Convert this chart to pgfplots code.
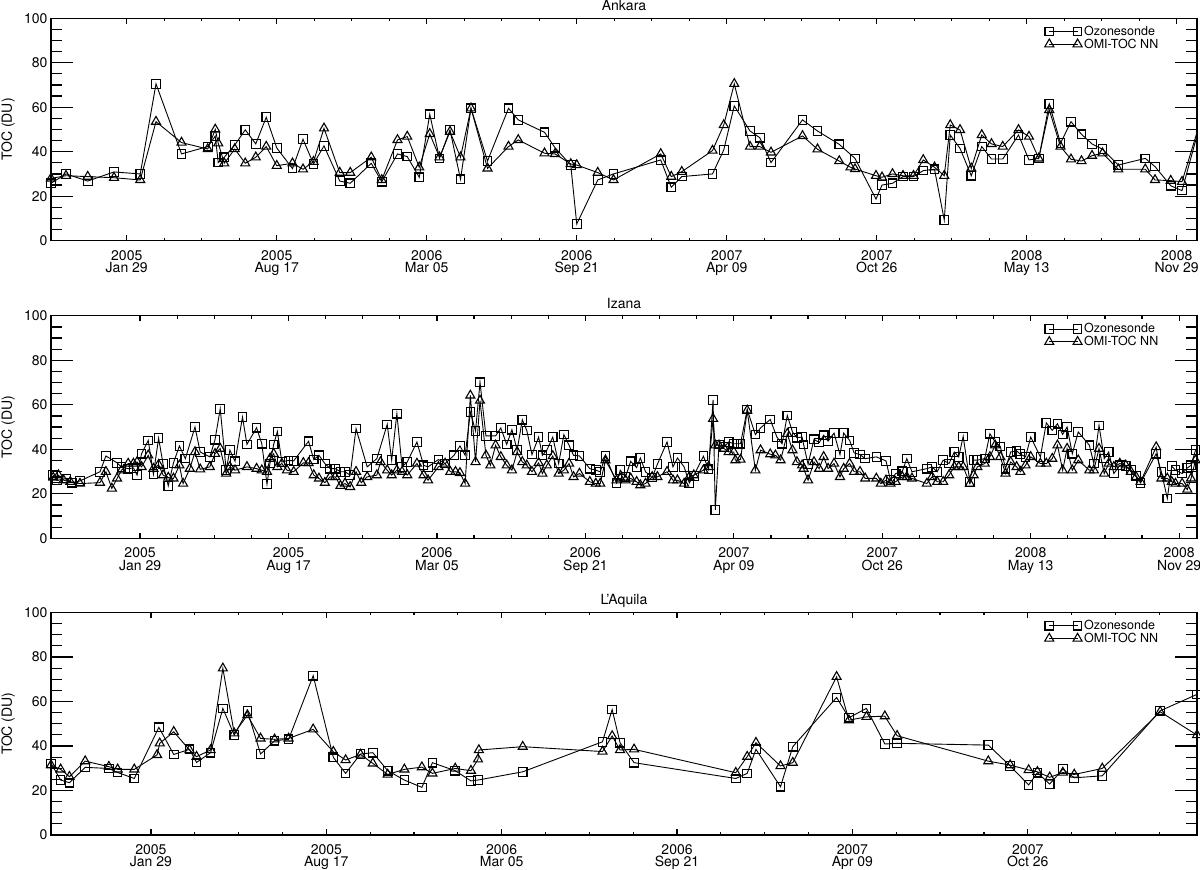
\documentclass[border=0pt]{standalone}
\usepackage{fontspec}
\setmainfont{TeX Gyre Heros}
\usepackage{pgfplots}
\usepackage{pgfplotstable}
\pgfplotsset{compat=1.18}

% x = days since 2005 Jan 29, y = TOC (DU)
\pgfplotstableread{
x y
-101 25.8
-81 30
-52 26.8
-17 30.9
18 30
39 70.5
73 39
108 42.3
118 47
122 35.1
130 37.5
144 43
158 49.8
172 43.5
186 55.5
200 41.7
221 32.4
235 45.6
249 34.5
263 42.6
284 26.8
298 25.8
326 34.8
340 26.5
361 39
374 37.8
390 28.5
404 56.8
417 37
431 49.8
445 27.6
459 59.5
481 35.8
509 59.5
522 54.3
557 48.7
571 41.8
592 34
600 7.5
628 27.3
649 30
712 36.3
726 24
740 28.8
781 30
796 40.8
810 60.6
831 49.3
844 46.3
859 35.1
901 54.3
921 49.3
950 43.3
971 37
999 18.7
1007 25
1021 25.8
1035 28.8
1049 28.8
1062 31.5
1077 32.1
1090 9.3
1098 47.5
1111 41.5
1126 29.2
1140 42.3
1153 36.7
1168 36.7
1189 47.5
1203 36.3
1216 37
1230 61.5
1245 43.8
1259 53.5
1273 47.8
1287 43.5
1301 41.1
1322 34
1358 37
1371 33.3
1392 24.7
1407 22.5
1430 51
}\ankO
\pgfplotstableread{
x y
-101 28
-81 29.2
-52 28.8
-17 28.3
18 27.3
39 53.5
73 44.1
108 41.2
118 50
122 43.8
130 34.8
144 41.2
158 34.8
172 37.5
186 42.3
200 33.7
221 34.8
235 32.1
249 35.5
263 50.5
284 30.6
298 30.6
326 37.5
340 27.3
361 45.3
374 46.8
390 33
404 48
417 37.5
431 49
445 37.5
459 59.5
481 32.5
509 42.3
522 45.3
557 39.3
571 39
592 34.5
600 34
628 30.6
649 27.3
712 39
726 28.8
740 31
781 40.5
796 52
810 70.5
831 42.3
844 42.3
859 39.7
901 47.1
921 41.1
950 35.8
965 33
971 32.2
999 29.2
1007 28.5
1021 30
1035 29.2
1049 29.2
1062 36.3
1077 33
1090 29.2
1098 52
1111 49.8
1126 32.5
1140 47.5
1153 43.5
1168 42.3
1189 49.8
1203 46.8
1216 37
1230 58.8
1245 42.3
1259 36.6
1273 35.8
1287 38.2
1301 39.3
1322 32.1
1358 32.1
1371 27.3
1392 27
1407 26.5
1430 52
}\ankN
\pgfplotstableread{
x y
-117 28.4
-112 26
-99 26.9
-92 25
-81 25.8
-54 29.9
-46 37
-31 33.9
-25 32
-16 31.3
-9 31.6
-4 28.4
2 38
11 44
18 28.8
25 45
31 33.3
38 23.6
45 33.9
53 41.5
61 35.8
74 50
81 38.8
94 36.6
101 44.3
108 58.2
116 30.6
121 39.6
128 34.6
138 54.5
144 42.2
157 49.7
164 42.5
171 24.3
175 33.6
180 42.2
185 48
191 34.3
200 35
207 34.8
227 43.6
234 35.4
241 37.3
249 33.6
256 31.3
263 31.3
270 29.9
276 29.9
283 28.4
291 49.3
306 32.1
319 35.8
333 51.2
339 35.1
346 56
353 32.1
360 34.3
373 43.3
382 32.8
388 32.1
402 35.4
411 33.6
423 37.3
431 41.5
438 37.3
445 56.7
452 48.2
458 70.1
466 46
479 46
486 49.6
494 42.2
501 48.8
508 39.6
515 53.3
521 48.5
528 37.6
537 45.5
542 37.3
548 39.6
556 45.5
564 33.6
571 46.6
578 41.8
584 37.3
592 37
606 31.3
614 30.6
620 29.9
627 37
642 24.9
647 30.6
654 27.6
661 34.6
669 31.8
674 36.1
681 29.9
690 27.3
697 33.3
710 43.3
718 32.1
724 36.1
733 32.1
740 24.9
746 28.1
759 36.9
766 31
772 62.2
775 12.7
780 42.2
787 41
793 43.3
800 42.5
805 42.5
809 42.5
818 57.9
829 46.6
836 49.6
849 53.4
858 45.5
865 42.5
872 55.2
879 47.8
885 45.2
892 45.5
894 42.2
900 33.3
908 44.5
915 43
921 46.3
927 43.7
935 47.3
943 37.6
948 47.3
956 44
962 38.4
970 37.6
977 35.8
992 36.6
1005 34.8
1011 26.1
1018 29.1
1027 30.1
1033 35.8
1040 29.9
1060 31.3
1067 32.1
1074 29.9
1082 35.1
1090 33.6
1097 38.8
1103 36.6
1109 45.8
1118 25.4
1123 35.1
1128 35.1
1138 35.8
1145 47
1152 43.3
1159 41.3
1166 31.3
1173 38.8
1181 39.3
1186 37.8
1193 36.6
1200 45.5
1213 36.6
1221 51.9
1229 48.5
1236 51.5
1243 46.7
1249 50
1256 38
1264 47.8
1279 41.8
1285 33.6
1292 50.7
1299 35.8
1305 38.8
1312 29.1
1320 32.8
1328 32.4
1335 30.6
1342 28.1
1348 24.9
1369 38
1376 29.9
1384 17.9
1390 32.4
1395 30.6
1404 29.1
1411 31.6
1416 32.8
1422 39.6
}\izaO
\pgfplotstableread{
x y
-117 27.3
-110 28.4
-103 26.1
-94 25.4
-81 24.6
-54 25
-46 29.9
-38 22.4
-31 26.9
-25 30.6
-16 33.6
-9 33.6
-4 34.3
2 32.1
11 37.3
18 31.3
25 33.1
31 28.4
38 27.3
45 26.9
53 32.8
58 24.6
67 31.3
74 38.8
81 31
94 32.1
101 38
108 40.3
116 29.1
121 32.1
128 30.6
144 32.1
157 31.3
164 30.6
171 29.9
175 35.8
180 38
185 32.1
191 33.6
198 30.6
207 29.9
220 33.9
227 33.9
234 28.4
241 26.9
249 25
256 27.6
263 27.6
270 23.6
276 24.6
283 23.1
291 29.9
298 25
306 27.6
319 28.4
324 34.3
333 30.6
339 28.4
346 30.6
353 29.9
360 28.4
373 33.6
382 28.4
388 26.1
402 32.1
411 33.6
418 29.9
425 29.9
431 29.4
438 24.6
445 64.2
452 34.3
458 61.9
466 37.3
472 32.8
479 41.8
486 36.6
494 32.8
501 30.6
508 38.8
515 34.3
521 32.8
528 29.9
537 33.9
542 29.1
548 32.8
556 37
564 29.1
571 30.6
578 33.6
584 27.6
592 29.1
606 25.4
614 24.6
620 24.6
627 35.1
642 26.1
647 26.9
654 26.1
661 26.9
669 25.4
674 23.9
681 24.6
690 27.6
697 27.6
710 29.9
718 26.1
724 26.1
733 24.6
740 27.6
746 28.4
759 30.6
766 32.1
772 53.7
775 41.8
780 41.8
787 40.3
793 38.8
800 38.8
802 35.1
809 35.4
818 57.5
829 30.6
836 39.6
849 37.8
856 37.3
863 35.1
872 47
879 39.6
885 34.3
892 32.8
894 31.3
900 26.1
908 34.3
915 31.3
921 36.6
927 31.3
935 33.6
943 27.6
948 31.3
956 33.6
962 29.9
970 29.9
977 26.9
992 26.9
998 24.6
1005 26.1
1011 24.6
1018 25.4
1027 27.6
1033 27.6
1040 26.9
1060 24.6
1067 27.6
1074 25.4
1082 25.4
1090 28.4
1097 32.1
1103 32.1
1109 32.1
1118 24.6
1123 28.4
1128 32.1
1138 33.6
1145 36.6
1152 41.8
1159 36.6
1166 29.1
1173 34.3
1181 32.1
1186 29.9
1193 32.8
1200 36.6
1213 33.6
1221 33.6
1229 35.8
1236 41.8
1243 30.6
1249 40.3
1256 30.6
1264 35.1
1279 30.6
1285 30.6
1292 40.3
1299 29.1
1305 33.6
1312 32.1
1320 33.6
1328 32.8
1335 29.9
1342 27.6
1348 25.4
1369 41
1376 26.9
1384 26.9
1390 25.4
1395 24.6
1404 24.6
1411 21.9
1416 26.9
1422 35.1
}\izaN
\pgfplotstableread{
x y
-114 32.2
-103 24.7
-93 23.5
-75 30.4
-48 29.9
-38 28.1
-19 25.4
9 48.4
26 36.2
44 38.5
52 32.6
68 37
82 56.9
95 44.9
110 55.8
125 36.4
141 42.4
157 43
185 71.6
208 34.9
222 27.7
239 36.4
253 37
270 28.9
289 24.7
309 21.4
321 32.5
347 28.9
365 24.3
373 24.7
424 28.4
515 41.9
526 56.4
535 41.5
551 32.5
667 25.4
680 27.7
690 38.5
718 21.7
732 39.7
782 61.8
796 52.7
816 56.9
837 40.9
851 41.2
955 40.4
980 31
1001 22.5
1011 28
1025 22.9
1040 29.6
1053 25.7
1085 26.6
1151 55.8
1193 63.2
}\aquO
\pgfplotstableread{
x y
-114 31.4
-103 29.5
-93 26.2
-75 33.2
-48 30.7
-38 29.5
-19 29.5
7 36
10 41.2
26 46.4
44 38.2
52 35.2
68 38.2
82 74.9
95 45.7
110 53.9
125 43.4
141 43
157 43.4
185 47.5
208 37.4
222 33.7
239 36.2
253 32.2
270 27.2
289 29.5
309 30.5
321 27.7
347 29.9
365 28.9
373 34
374 38.2
424 39.7
515 37.5
526 44.5
535 38.2
551 38.5
667 28
680 35.2
690 41.5
718 31
732 32.5
782 71.1
796 51.6
816 53.1
837 53.4
851 44.6
955 33.2
980 31.4
1001 29.2
1011 28.4
1025 25.9
1040 28.1
1053 27.2
1085 29.9
1151 55.4
1193 44.9
}\aquN

\pgfplotsset{
  idl/.style={
    scale only axis, width=1146pt, height=222.5pt,
    anchor=south west,
    ymin=0, ymax=100, ytick={0,20,...,100}, minor y tick num=3,
    xtick={0,200,...,1400},
    xticklabels={{2005\\Jan 29},{2005\\Aug 17},{2006\\Mar 05},{2006\\Sep 21},{2007\\Apr 09},{2007\\Oct 26},{2008\\May 13},{2008\\Nov 29}},
    minor x tick num=3,
    axis line style={line width=1.2pt, black},
    tick style={line width=1.2pt, black},
    xtick style={/pgfplots/major tick length=5.5pt,/pgfplots/minor tick length=3pt},
    ytick style={/pgfplots/major tick length=22pt,/pgfplots/minor tick length=11pt},
    tick align=inside,
    font=\fontsize{14pt}{14pt}\selectfont,
    ticklabel style={font=\fontsize{14pt}{12.5pt}\selectfont},
    xticklabel style={align=center, yshift=-6pt},
    /pgf/number format/assume math mode=true,
    ylabel={TOC (DU)},
    ylabel style={at={(axis description cs:-0.0375,0.5)}, anchor=center},
    every axis title shift=0pt,
    title style={anchor=base, yshift=7.5pt},
    legend style={draw=none, fill=none, at={(axis description cs:0.867,0.975)}, anchor=north west,
      font=\fontsize{12.5pt}{13pt}\selectfont, row sep=-2pt, inner sep=0pt},
    legend cell align=left,
    legend image code/.code={\draw[mark repeat=1,mark phase=1,##1] plot coordinates {(0pt,0pt) (28.3pt,0pt)};},
  },
  sq/.style={black, line width=0.9pt, mark=square, mark size=4.3pt, mark options={solid, line width=1.1pt}},
  tri/.style={black, line width=0.9pt, mark=triangle, mark size=5.2pt, mark options={solid, line width=1.1pt}},
}

\begin{document}
\begin{tikzpicture}[x=1pt,y=1pt]
\useasboundingbox (0,0) rectangle (1200,870);

\begin{axis}[idl, at={(51pt,629.3pt)}, xmin=-101, xmax=1427, title={Ankara}]
\addplot[sq] table[x=x,y=y] {\ankO};
\addplot[tri] table[x=x,y=y] {\ankN};
\legend{Ozonesonde,OMI-TOC NN}
\end{axis}

\begin{axis}[idl, at={(51pt,331.7pt)}, xmin=-120, xmax=1424, title={Izana}]
\addplot[sq] table[x=x,y=y] {\izaO};
\addplot[tri] table[x=x,y=y] {\izaN};
\legend{Ozonesonde,OMI-TOC NN}
\end{axis}

\begin{axis}[idl, at={(51pt,35pt)}, xmin=-114, xmax=1193, title={L'Aquila}]
\addplot[sq] table[x=x,y=y] {\aquO};
\addplot[tri] table[x=x,y=y] {\aquN};
\legend{Ozonesonde,OMI-TOC NN}
\end{axis}
\end{tikzpicture}
\end{document}
